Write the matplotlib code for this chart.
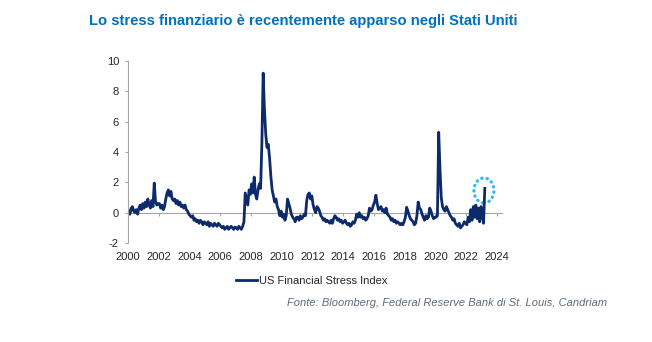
import numpy as np
import matplotlib
matplotlib.use("Agg")
import matplotlib.pyplot as plt
from matplotlib.patches import Ellipse

plt.rcParams["font.family"] = ["Liberation Sans", "DejaVu Sans"]
plt.rcParams["axes.unicode_minus"] = False

# Monthly readings of the US Financial Stress Index
fsi_by_year = {
    2000: [0.1, -0.1, 0.3, 0.4, 0.1, 0.0, 0.2, -0.1, 0.3, 0.5, 0.2, 0.6],
    2001: [0.3, 0.7, 0.4, 0.9, 0.5, 0.3, 0.8, 0.4, 1.95, 0.7, 0.5, 0.6],
    2002: [0.6, 0.3, 0.5, 0.2, 0.4, 0.9, 1.3, 1.5, 1.1, 1.4, 0.9, 0.8],
    2003: [0.9, 0.6, 0.8, 0.5, 0.7, 0.4, 0.5, 0.3, 0.5, 0.2, 0.1, -0.1],
    2004: [-0.2, -0.3, -0.2, -0.5, -0.4, -0.6, -0.5, -0.7, -0.5, -0.6, -0.8, -0.6],
    2005: [-0.7, -0.8, -0.6, -0.9, -0.7, -0.8, -0.9, -0.7, -0.8, -0.9, -0.7, -0.8],
    2006: [-0.9, -1.0, -0.9, -1.1, -1.0, -0.9, -1.1, -1.0, -0.9, -1.0, -1.1, -0.95],
    2007: [-1.0, -1.1, -0.9, -1.0, -1.1, -0.9, -0.6, 1.3, 0.9, 0.5, 1.5, 1.2],
    2008: [1.9, 1.3, 2.35, 1.2, 0.9, 1.5, 1.9, 1.6, 4.6, 9.2, 6.8, 5.2],
    2009: [4.3, 4.5, 3.6, 2.4, 1.5, 1.1, 0.7, 0.9, 0.4, 0.2, -0.2, 0.1],
    2010: [-0.3, -0.1, -0.5, -0.2, 0.9, 0.6, 0.3, -0.1, -0.3, -0.4, -0.6, -0.3],
    2011: [-0.3, -0.5, -0.2, -0.4, -0.3, -0.1, -0.2, 0.8, 1.2, 1.3, 0.9, 1.1],
    2012: [0.5, 0.2, 0.0, 0.4, 0.3, 0.1, -0.2, -0.3, -0.5, -0.4, -0.6, -0.5],
    2013: [-0.6, -0.7, -0.5, -0.7, -0.4, -0.2, -0.3, -0.5, -0.4, -0.6, -0.5, -0.7],
    2014: [-0.6, -0.5, -0.7, -0.8, -0.7, -0.9, -0.8, -0.6, -0.7, -0.5, -0.1, -0.3],
    2015: [0.0, -0.3, -0.2, -0.4, -0.3, -0.5, -0.4, -0.2, 0.3, 0.1, 0.2, 0.5],
    2016: [0.7, 1.15, 0.6, 0.2, 0.3, 0.4, 0.1, 0.2, 0.0, 0.3, -0.1, -0.2],
    2017: [-0.3, -0.5, -0.4, -0.6, -0.5, -0.7, -0.6, -0.7, -0.8, -0.7, -0.8, -0.6],
    2018: [-0.3, 0.35, 0.1, -0.2, -0.4, -0.5, -0.6, -0.8, -0.7, -0.2, 0.7, 0.3],
    2019: [0.2, -0.1, -0.3, -0.5, -0.2, -0.4, -0.3, 0.3, 0.1, -0.2, -0.4, -0.3],
    2020: [-0.3, -0.2, 5.3, 2.9, 1.0, 0.4, 0.2, 0.1, 0.4, 0.2, 0.0, -0.2],
    2021: [-0.3, -0.5, -0.4, -0.7, -0.8, -0.9, -0.7, -1.0, -0.9, -0.8, -0.6, -0.7],
    2022: [-0.8, -0.3, -0.6, 0.2, -0.5, 0.4, -0.3, 0.5, -0.4, 0.3, -0.6, 0.4],
    2023: [-0.2, -0.7, 1.6],
}

year_ticks = list(range(2000, 2025, 2))
y_ticks = [-2, 0, 2, 4, 6, 8, 10]

title = "Lo stress finanziario è recentemente apparso negli Stati Uniti"
series_label = "US Financial Stress Index"
source = "Fonte: Bloomberg, Federal Reserve Bank di St. Louis, Candriam"

NAVY = "#0D2A6A"
GREY = "#A6A6A6"
TEXT = "#262626"

dates = []
values = []
for year, months in fsi_by_year.items():
    for m, v in enumerate(months):
        dates.append(year + (m + 0.5) / 12)
        values.append(v)
dates = np.array(dates)
values = np.array(values)

fig = plt.figure(figsize=(6.52, 3.42), dpi=100, facecolor="white")
ax = fig.add_axes([128 / 652, 1 - 243 / 342, (501.6 - 128) / 652, (243 - 61) / 342])

line, = ax.plot(dates, values, color=NAVY, lw=2.0, label=series_label,
                solid_joinstyle="round")

# dotted circle highlighting the 2023 spike
ax.add_patch(Ellipse((2023.15, 1.46), 1.3, 1.65, fill=False, edgecolor="#3BB8EE",
                     linestyle=(0, (0.1, 1.5)), lw=2.4, capstyle="round"))

ax.set_xlim(2000, 2024.3)
ax.set_ylim(-2, 10)

ax.spines["top"].set_visible(False)
ax.spines["right"].set_visible(False)
ax.spines["bottom"].set_position(("data", 0))
ax.spines["bottom"].set_color(GREY)
ax.spines["left"].set_color(GREY)
ax.spines["bottom"].set_zorder(0)

ax.set_xticks(year_ticks)
ax.set_xticklabels([str(y) for y in year_ticks])
ax.set_yticks(y_ticks)
ax.tick_params(axis="x", direction="out", length=2.5, color=GREY, pad=26,
               labelsize=8, labelcolor=TEXT)
ax.tick_params(axis="y", direction="out", length=2.5, color=GREY, pad=4,
               labelsize=8, labelcolor=TEXT)

fig.text(89 / 652, 1 - 21 / 342, title, fontsize=10.6, fontweight="bold",
         color="#0070C0", ha="left", va="center")

fig.legend(handles=[line], loc="center left", bbox_to_anchor=(236 / 652, 1 - 281 / 342),
           frameon=False, fontsize=8, handlelength=1.9, handletextpad=0.2,
           borderpad=0, borderaxespad=0, labelcolor=TEXT)

fig.text(607 / 652, 1 - 303 / 342, source, fontsize=8, style="italic",
         color="#5B6B7F", ha="right", va="center")

fig.savefig("out.png", dpi=100, facecolor="white")
